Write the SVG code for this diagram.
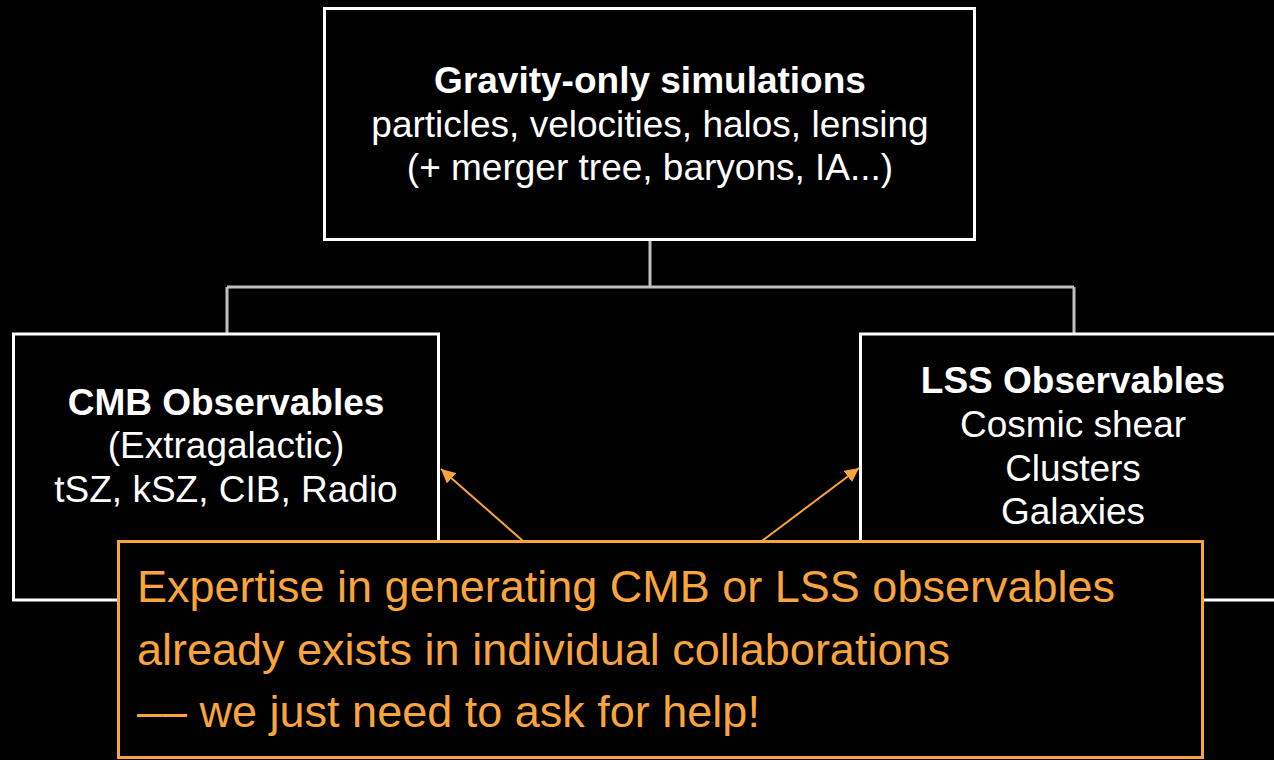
<svg xmlns="http://www.w3.org/2000/svg" width="1274" height="760" viewBox="0 0 1274 760">
<defs>
<style>
.box{fill:#000;stroke:#fff;stroke-width:3}
.note{fill:#000;stroke:#f9a43c;stroke-width:3}
.conn{fill:none;stroke:#bfbfbf;stroke-width:3}
.arr{fill:none;stroke:#f9a43c;stroke-width:2}
.t{font-family:"Liberation Sans",Arial,sans-serif;fill:#fff;font-size:37px;text-anchor:middle}
.b{font-weight:bold}
.o{font-family:"Liberation Sans",Arial,sans-serif;fill:#f9a43c;font-size:45px}
</style>
<marker id="ah" viewBox="0 0 10 10" refX="10" refY="5" markerWidth="7" markerHeight="7" markerUnits="strokeWidth" orient="auto">
<path d="M0,0 L10,5 L0,10 z" fill="#f9a43c"/>
</marker>
</defs>
<rect width="1274" height="760" fill="#000"/>
<g id="connectors">
<path class="conn" d="M650,240 V287 M227,287 H1074 M227,287 V333 M1074,287 V333"/>
</g>
<g id="top">
<rect class="box" x="324.5" y="8.5" width="650" height="231"/>
<text class="t b" x="650" y="93">Gravity-only simulations</text>
<text class="t" x="650" y="137">particles, velocities, halos, lensing</text>
<text class="t" x="650" y="180">(+ merger tree, baryons, IA...)</text>
</g>
<g id="cmb">
<rect class="box" x="13.5" y="334" width="425" height="266"/>
<text class="t b" x="226" y="415">CMB Observables</text>
<text class="t" x="226" y="458">(Extragalactic)</text>
<text class="t" x="226" y="502">tSZ, kSZ, CIB, Radio</text>
</g>
<g id="lss">
<rect class="box" x="860.5" y="334" width="425" height="266"/>
<text class="t b" x="1073" y="393">LSS Observables</text>
<text class="t" x="1073" y="437">Cosmic shear</text>
<text class="t" x="1073" y="481">Clusters</text>
<text class="t" x="1073" y="524">Galaxies</text>
</g>
<g id="arrows">
<line class="arr" x1="523" y1="541" x2="441" y2="469" marker-end="url(#ah)"/>
<line class="arr" x1="762" y1="541" x2="859" y2="468" marker-end="url(#ah)"/>
</g>
<g id="note">
<rect class="note" x="118.5" y="541.5" width="1084" height="216"/>
<text class="o" x="137" y="602">Expertise in generating CMB or LSS observables</text>
<text class="o" x="137" y="665">already exists in individual collaborations</text>
<text class="o" x="137" y="727">–– we just need to ask for help!</text>
</g>
</svg>
